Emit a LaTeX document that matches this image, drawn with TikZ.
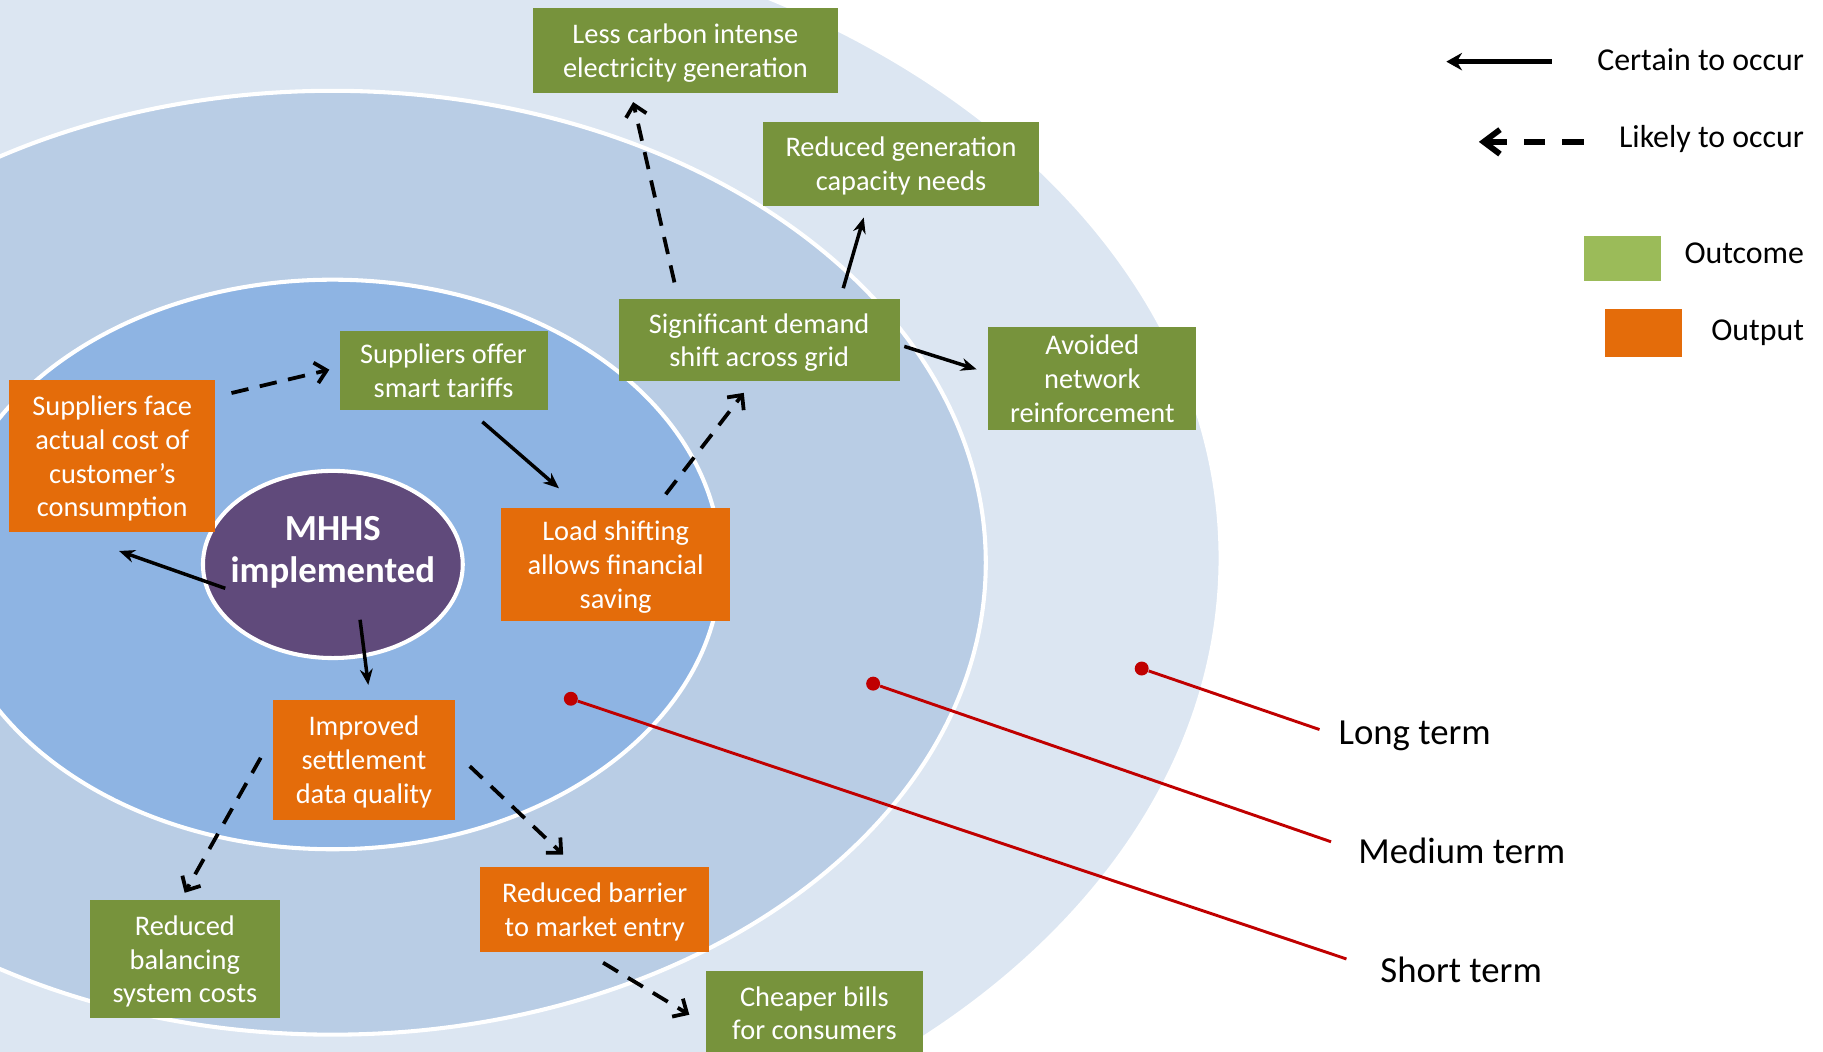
\documentclass[tikz,border=0pt]{standalone}
\usepackage{fontspec}
\setmainfont{Carlito}
\usetikzlibrary{arrows.meta, shapes.geometric}

\definecolor{ringlong}{HTML}{DCE6F2}
\definecolor{ringmed}{HTML}{B9CDE5}
\definecolor{ringshort}{HTML}{8EB4E3}
\definecolor{mhhspurple}{HTML}{604A7B}
\definecolor{outcomegreen}{HTML}{77933C}
\definecolor{keygreen}{HTML}{9BBB59}
\definecolor{outputorange}{HTML}{E46C0A}
\definecolor{termred}{HTML}{C00000}

\begin{document}
\begin{tikzpicture}[x=0.02cm, y=-0.02cm,
    ring/.style={draw=white, line width=0.07cm},
    box/.style={inner sep=0pt, outer sep=0pt, align=center, text=white,
        font=\fontsize{13.9pt}{16.5pt}\selectfont, text depth=-1pt},
    outcome/.style={box, fill=outcomegreen},
    output/.style={box, fill=outputorange},
    certain/.style={line width=0.06cm, -{Stealth[length=0.27cm, width=0.22cm]}},
    likely/.style={line width=0.065cm, dash pattern=on 0.3cm off 0.2cm,
        -{Straight Barb[length=0.19cm, width=0.36cm, line width=0.065cm]}},
    termdot/.style={circle, fill=termred, inner sep=0pt, minimum size=0.24cm},
    termline/.style={termred, line width=0.05cm},
    termlabel/.style={anchor=west, inner sep=0pt, font=\fontsize{18pt}{21pt}\selectfont},
    keytext/.style={anchor=base east, inner sep=0pt, font=\fontsize{15.6pt}{18pt}\selectfont},
    keybox/.style={inner sep=0pt, minimum width=1.32cm}]

    \useasboundingbox (0,0) rectangle (1568,904);
    \clip (0,0) rectangle (1568,904);

    % === time horizons ===
    \draw[ring, fill=ringlong] (286,480) ellipse [x radius=15.28cm, y radius=11.06cm];
    \draw[ring, fill=ringmed] (286,484) ellipse [x radius=11.24cm, y radius=8.12cm];
    \draw[ring, fill=ringshort] (286,485.5) ellipse [x radius=6.68cm, y radius=4.9cm];

    % red pointers to the horizon labels
    \node[termdot] (dotlong) at (982,575) {};
    \node[termdot] (dotmed) at (751,588) {};
    \node[termdot] (dotshort) at (491,601) {};
    \node[termlabel] (lbllong) at (1151,633) {Long term};
    \node[termlabel] (lblmed) at (1168,732) {Medium term};
    \node[termlabel] (lblshort) at (1187,834.5) {Short term};
    \draw[termline, shorten >=0.34cm] (dotlong) -- (lbllong.west);
    \draw[termline, shorten >=0.49cm] (dotmed) -- (lblmed.west);
    \draw[termline, shorten >=0.61cm] (dotshort) -- (lblshort.west);

    % === centre ===
    \node[ellipse, ring, fill=mhhspurple, inner sep=0pt, minimum width=4.47cm,
        minimum height=3.22cm] (mhhs) at (286.3,485.5) {};
    \node[align=center, text=white, inner sep=0pt,
        font=\bfseries\fontsize{18pt}{20.7pt}\selectfont] (mhhslbl) at (286.3,475) {MHHS\\implemented};

    % outputs
    \node[output, minimum width=3.54cm, minimum height=2.62cm] (face) at (96.5,392.5)
        {Suppliers face\\actual cost of\\customer’s\\consumption};
    \node[output, minimum width=3.94cm, minimum height=1.94cm] (loadshift) at (529.5,485.5)
        {Load shifting\\allows financial\\saving};
    \node[output, minimum width=3.12cm, minimum height=2.06cm] (improved) at (313,653.5)
        {Improved\\settlement\\data quality};
    \node[output, minimum width=3.94cm, minimum height=1.46cm] (barrier) at (511.5,782.5)
        {Reduced barrier\\to market entry};

    % outcomes
    \node[outcome, minimum width=5.26cm, minimum height=1.46cm] (lesscarbon) at (589.5,43.5)
        {Less carbon intense\\electricity generation};
    \node[outcome, minimum width=4.76cm, minimum height=1.44cm] (redgen) at (775,141)
        {Reduced generation\\capacity needs};
    \node[outcome, minimum width=3.58cm, minimum height=1.78cm] (avoided) at (939.5,325.5)
        {Avoided\\network\\reinforcement};
    \node[outcome, minimum width=4.84cm, minimum height=1.42cm] (sigdemand) at (653,292.5)
        {Significant demand\\shift across grid};
    \node[outcome, minimum width=3.58cm, minimum height=1.36cm] (offer) at (381.5,319)
        {Suppliers offer\\smart tariffs};
    \node[outcome, minimum width=3.28cm, minimum height=2.04cm] (balancing) at (159,825)
        {Reduced\\balancing\\system costs};
    \node[outcome, minimum width=3.74cm, minimum height=1.46cm] (cheaper) at (700.5,871.5)
        {Cheaper bills\\for consumers};

    % === links ===
    \draw[certain, shorten <=-0.41cm, shorten >=0.96cm] (mhhs.187) -- (face.239.4);
    \draw[certain, shorten <=-0.65cm, shorten >=0.26cm] (mhhs.-71) -- (improved.84);
    \draw[likely, shorten <=0.29cm, shorten >=0.18cm] (face.30.6) -- (offer.178.1);
    \draw[certain, shorten <=0.30cm, shorten >=0.52cm] (offer.-57) -- (loadshift.121.8);
    \draw[likely, shorten <=0.30cm, shorten >=0.25cm] (loadshift.55.7) -- (sigdemand.261.7);
    \draw[likely, shorten <=0.29cm, shorten >=0.16cm] (sigdemand.153.8) -- (lesscarbon.218.3);
    \draw[certain, shorten <=0.19cm, shorten >=0.21cm] (sigdemand.27.9) -- (redgen.231.4);
    \draw[certain, shorten <=0.08cm, shorten >=0.21cm] (sigdemand.-2.5) -- (avoided.177.9);
    \draw[likely, shorten <=0.44cm, shorten >=0.14cm] (improved.165.9) -- (balancing.94.9);
    \draw[likely, shorten <=0.36cm, shorten >=0.32cm] (improved.5.9) -- (barrier.113.8);
    \draw[likely, shorten <=0.35cm, shorten >=0.33cm] (barrier.258.7) -- (cheaper.186.1);

    % === key ===
    \coordinate (certtail) at (1334.6,53);
    \coordinate (certtip) at (1244,53);
    \coordinate (liketail) at (1362,122);
    \coordinate (liketip) at (1272,122);
    \draw[line width=0.08cm, -{Stealth[length=0.27cm, width=0.3cm]}] (certtail) -- (certtip);
    \draw[line width=0.1cm, dash pattern=on 0.37cm off 0.29cm,
        -{Straight Barb[length=0.28cm, width=0.42cm, line width=0.1cm]}] (liketail) -- (liketip);
    \node[keytext] (keycertain) at (1552,60.8) {Certain to occur};
    \node[keytext] (keylikely) at (1552,127) {Likely to occur};
    \node[keybox, fill=keygreen, minimum height=0.77cm] (keyoutcome) at (1395.6,222.4) {};
    \node[keybox, fill=outputorange, minimum height=0.82cm] (keyoutput) at (1413.7,286.4) {};
    \node[keytext] (lbloutcome) at (1552,226.5) {Outcome};
    \node[keytext] (lbloutput) at (1552,292.5) {Output};
\end{tikzpicture}
\end{document}
